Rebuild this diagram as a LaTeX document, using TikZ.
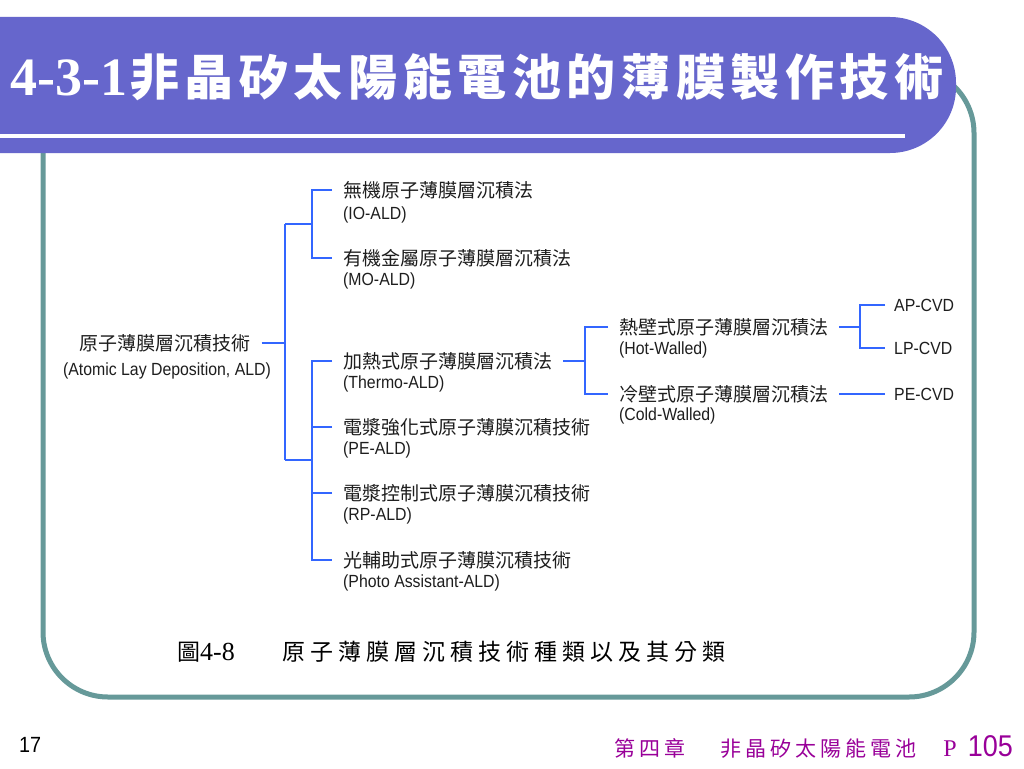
\documentclass[tikz,border=0pt]{standalone}
\usepackage{fontspec}
\newfontfamily\cjk{Noto Sans CJK TC}
\newfontfamily\ens{Liberation Sans}[FakeStretch=0.9]
\newfontfamily\ser{Liberation Serif}
\definecolor{barblue}{RGB}{102,102,204}
\definecolor{frameteal}{RGB}{102,153,153}
\definecolor{treeblue}{RGB}{51,102,255}
\definecolor{footpurple}{RGB}{153,0,153}
\definecolor{txt}{RGB}{30,30,30}
\newcommand\capgap{\hspace{5pt}}
\newcommand\ftgap{\hspace{4pt}}
\newcommand\tgap{\hspace{5.6pt}}
\tikzset{
  tree/.style={draw=treeblue, line width=1.4pt},
  cj/.style={font=\cjk\fontsize{19}{19}\selectfont, text=txt, inner xsep=11pt, inner ysep=0pt, anchor=west},
  en/.style={font=\ens\fontsize{17.6}{17.6}\selectfont, text=txt, inner sep=0pt, anchor=west},
}
\begin{document}
\begin{tikzpicture}[x=1pt,y=-1pt]
\useasboundingbox (0,0) rectangle (1024,768);
\clip (0,0) rectangle (1024,768);
\fill[white] (0,0) rectangle (1024,768);
% frame
\draw[frameteal, line width=5pt, rounded corners=65pt] (43,68) rectangle (974,697);
% title bar
\fill[barblue, rounded corners=66pt] (-100,17) rectangle (956,153);
\draw[white, line width=4pt] (0,136) -- (905,136);
\node[anchor=base west, inner sep=0pt, text=white] (title) at (10,95) {\ser\bfseries\fontsize{54}{54}\selectfont 4-3-1\hspace{3pt}\cjk\bfseries\fontsize{49}{49}\selectfont 非\tgap 晶\tgap 矽\tgap 太\tgap 陽\tgap 能\tgap 電\tgap 池\tgap 的\tgap 薄\tgap 膜\tgap 製\tgap 作\tgap 技\tgap 術};
% tree nodes
\node[cj, anchor=center] (root) at (165,343) {原子薄膜層沉積技術};
\node[en, anchor=center] (roote) at (167,371) {(Atomic Lay Deposition, ALD)};
\node[cj] (io) at (332,190) {無機原子薄膜層沉積法};
\node[en] (ioe) at (343,215) {(IO-ALD)};
\node[cj] (mo) at (332,258) {有機金屬原子薄膜層沉積法};
\node[en] (moe) at (343,281) {(MO-ALD)};
\node[cj] (th) at (332,361) {加熱式原子薄膜層沉積法};
\node[en] (the) at (343,384) {(Thermo-ALD)};
\node[cj] (pe) at (332,427) {電漿強化式原子薄膜沉積技術};
\node[en] (pee) at (343,450) {(PE-ALD)};
\node[cj] (rp) at (332,493) {電漿控制式原子薄膜沉積技術};
\node[en] (rpe) at (343,516) {(RP-ALD)};
\node[cj] (ph) at (332,560) {光輔助式原子薄膜沉積技術};
\node[en] (phe) at (343,583) {(Photo Assistant-ALD)};
\node[cj] (hot) at (608,327) {熱壁式原子薄膜層沉積法};
\node[en] (hote) at (619,350) {(Hot-Walled)};
\node[cj] (cold) at (608,394) {冷壁式原子薄膜層沉積法};
\node[en] (colde) at (619,416) {(Cold-Walled)};
\node[en, inner xsep=9pt] (ap) at (885,305) {AP-CVD};
\node[en, inner xsep=9pt] (lp) at (885,348) {LP-CVD};
\node[en, inner xsep=9pt] (pcvd) at (885,394) {PE-CVD};
% junctions
\coordinate (s0) at (285,224);
\coordinate (s1) at (285,460);
\coordinate (a0) at (312,224);
\coordinate (b0) at (312,460);
\coordinate (c0) at (585,361);
\coordinate (d0) at (860,327);
% connectors
\draw[tree] (root.east) -- (root.east -| s0);
\draw[tree] (s0) -- (s1);
\draw[tree] (s0) -- (a0);
\draw[tree] (s1) -- (b0);
\draw[tree] (io.west) -| (a0) |- (mo.west);
\draw[tree] (th.west) -| (b0) |- (ph.west);
\draw[tree] (pe.west) -- (pe.west -| b0);
\draw[tree] (rp.west) -- (rp.west -| b0);
\draw[tree] (th.east) -- (c0);
\draw[tree] (hot.west) -| (c0) |- (cold.west);
\draw[tree] (hot.east) -- (d0);
\draw[tree] (ap.west) -| (d0) |- (lp.west);
\draw[tree] (cold.east) -- (pcvd.west);
% caption
\node[anchor=base west, inner sep=0pt, text=black] (cap) at (177,660) {\cjk\fontsize{23}{23}\selectfont 圖\ser\fontsize{26}{26}\selectfont 4-8\hspace{48pt}\cjk\fontsize{23}{23}\selectfont 原\capgap 子\capgap 薄\capgap 膜\capgap 層\capgap 沉\capgap 積\capgap 技\capgap 術\capgap 種\capgap 類\capgap 以\capgap 及\capgap 其\capgap 分\capgap 類};
% footer
\node[anchor=base west, inner sep=0pt, text=black] (pg) at (19,752) {\ens\fontsize{22}{22}\selectfont 17};
\node[anchor=base east, inner sep=0pt, text=footpurple] (foot) at (1013,756) {\cjk\fontsize{21}{21}\selectfont 第\ftgap 四\ftgap 章\hspace{35pt}非\ftgap 晶\ftgap 矽\ftgap 太\ftgap 陽\ftgap 能\ftgap 電\ftgap 池\hspace{27pt}\ser\fontsize{24}{24}\selectfont P\hspace{11pt}\ens\fontsize{30}{30}\selectfont 105};
\end{tikzpicture}
\end{document}
